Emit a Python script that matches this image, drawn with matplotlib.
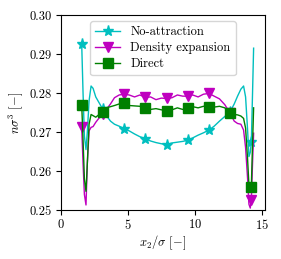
import matplotlib
matplotlib.use("Agg")
import matplotlib.pyplot as plt

# 그림 설정 (LaTeX 느낌의 세리프 글꼴)
plt.rcParams["font.family"] = "serif"
plt.rcParams["font.serif"] = ["cmr10", "DejaVu Serif"]
plt.rcParams["mathtext.fontset"] = "cm"
plt.rcParams["axes.formatter.use_mathtext"] = True
plt.rcParams["font.size"] = 9

# 위치 x2/sigma
x = [1.55, 1.65, 1.75, 1.87, 1.97, 2.1, 2.25, 2.4, 2.6, 2.85,
     3.135, 3.4, 3.7, 4.0, 4.35, 4.72, 5.1, 5.5, 5.9, 6.305,
     6.7, 7.1, 7.5, 7.89, 8.3, 8.7, 9.1, 9.475, 9.85, 10.25,
     10.65, 11.06, 11.45, 11.85, 12.25, 12.645, 12.95, 13.2, 13.45, 13.65,
     13.8, 13.95, 14.05, 14.15, 14.23, 14.32, 14.4]

# 인력 없음
no_attr = [0.2925, 0.280, 0.269, 0.2655, 0.270, 0.278, 0.2818, 0.2812, 0.279, 0.2775,
           0.2758, 0.2742, 0.2728, 0.272, 0.2715, 0.2709, 0.2703, 0.2695, 0.2688, 0.2683,
           0.2677, 0.2673, 0.267, 0.2668, 0.2672, 0.2674, 0.2676, 0.2679, 0.2685, 0.2692,
           0.2698, 0.2705, 0.2715, 0.2728, 0.274, 0.2752, 0.2772, 0.2792, 0.281, 0.2818,
           0.279, 0.2705, 0.2637, 0.2648, 0.2675, 0.280, 0.2915]

# 밀도 전개
dens_exp = [0.2712, 0.262, 0.254, 0.2513, 0.262, 0.2703, 0.2712, 0.2714, 0.2725, 0.2736,
            0.2745, 0.2758, 0.2772, 0.2788, 0.2795, 0.2797, 0.2795, 0.279, 0.2795, 0.2789,
            0.279, 0.2783, 0.2787, 0.2786, 0.2788, 0.2795, 0.2792, 0.2792, 0.2795, 0.279,
            0.2797, 0.2799, 0.2792, 0.2785, 0.277, 0.2748, 0.2728, 0.2722, 0.272, 0.2705,
            0.266, 0.258, 0.2515, 0.2505, 0.2525, 0.262, 0.2697]

# 직접 계산
direct = [0.277, 0.268, 0.258, 0.2548, 0.262, 0.272, 0.2745, 0.2742, 0.2738, 0.2745,
          0.2752, 0.2762, 0.2765, 0.2768, 0.2772, 0.2774, 0.2768, 0.2767, 0.2766, 0.2762,
          0.2758, 0.276, 0.2757, 0.2755, 0.2757, 0.2762, 0.2758, 0.2761, 0.2765, 0.2762,
          0.2766, 0.2765, 0.2764, 0.2766, 0.2762, 0.2748, 0.2745, 0.2744, 0.2741, 0.2735,
          0.271, 0.263, 0.2565, 0.2548, 0.256, 0.267, 0.2762]

marks = [0, 10, 15, 19, 23, 27, 31, 35, 44]

fig = plt.figure(figsize=(2.81, 2.59), dpi=100)
ax = fig.add_axes([0.217, 0.189, 0.726, 0.753])

ax.plot(x, no_attr, color="c", lw=1, marker="*", ms=8, markevery=marks, label="No-attraction")
ax.plot(x, dens_exp, color="m", lw=1, marker="v", ms=7.5, markevery=marks, label="Density expansion")
ax.plot(x, direct, color="g", lw=1, marker="s", ms=7, markevery=marks, label="Direct")

ax.set_xlim(0, 15.25)
ax.set_ylim(0.25, 0.30)
ax.set_xticks([0, 5, 10, 15])
ax.set_yticks([0.25, 0.26, 0.27, 0.28, 0.29, 0.30])
ax.set_yticklabels(["0.25", "0.26", "0.27", "0.28", "0.29", "0.30"])
ax.tick_params(axis="x", pad=2.5)
ax.set_xlabel(r"$x_2/\sigma$ $[-]$", labelpad=1)
ax.set_ylabel(r"$n\sigma^3$ $[-]$", labelpad=3)
ax.legend(loc="upper center", handlelength=2, borderaxespad=0.5, labelspacing=0.3)

plt.savefig("out.png", dpi=100)
